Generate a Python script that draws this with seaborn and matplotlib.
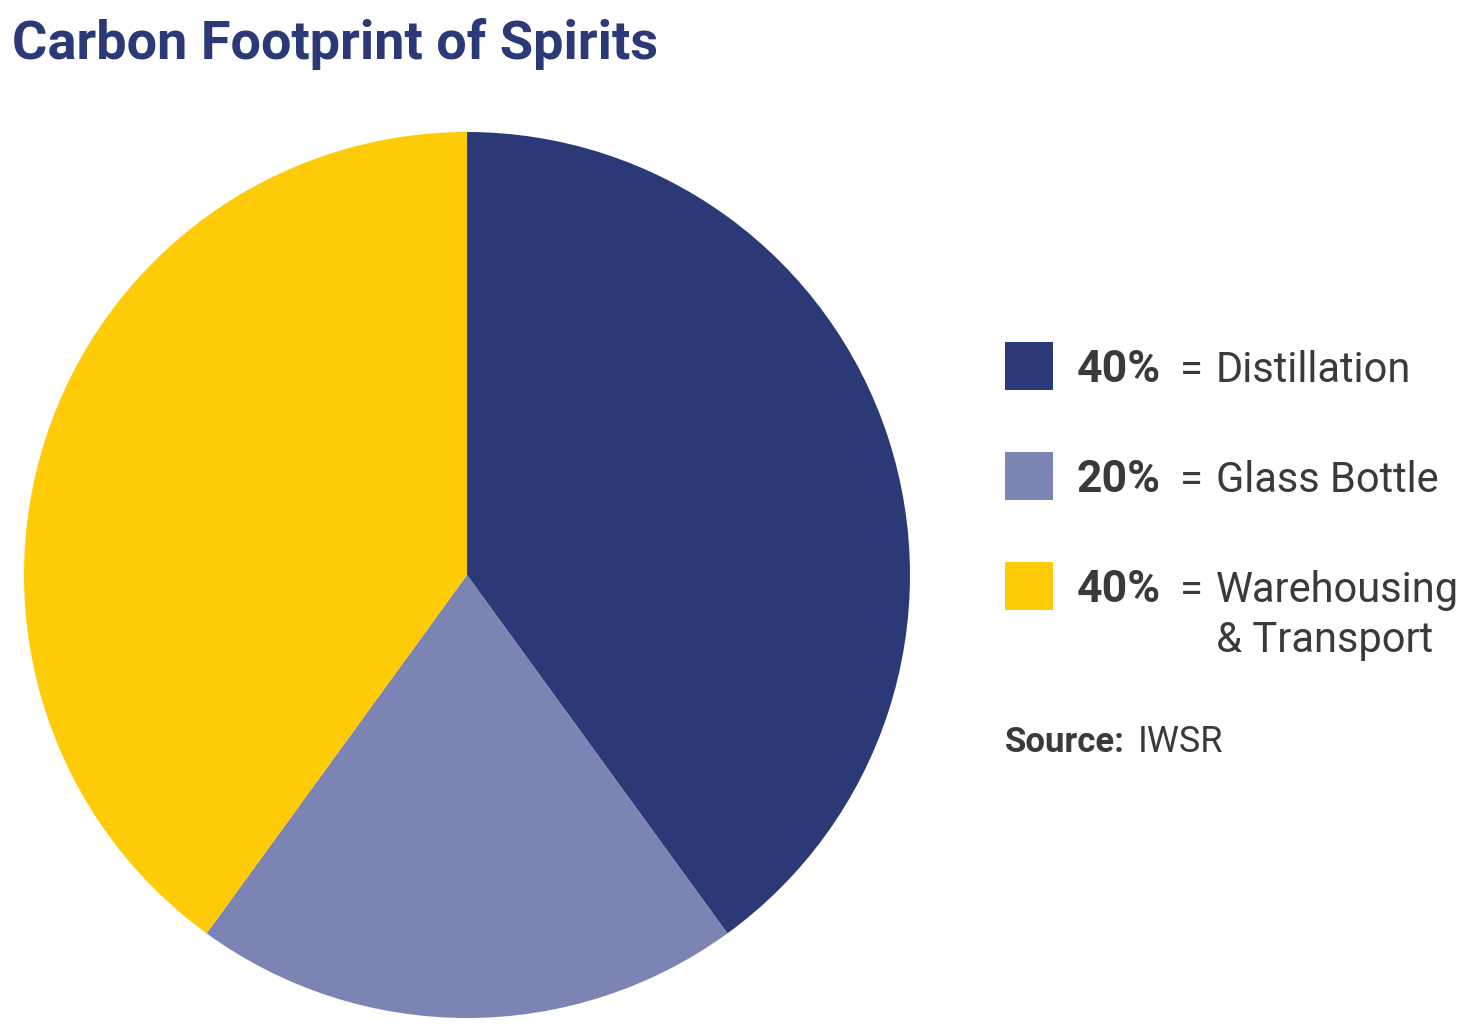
import matplotlib
matplotlib.use('Agg')
import matplotlib.pyplot as plt
import seaborn as sns

# data
categories = ['Distillation', 'Glass Bottle', 'Warehousing']
extra_lines = ['', '', '& Transport']
shares = [40, 20, 40]
pct_labels = ['40%', '20%', '40%']
colors = ['#2B3A77', '#7C84B3', '#FDCB08']

sns.set_theme(style='white')
plt.rcParams['font.family'] = ['Roboto', 'DejaVu Sans']

W, H = 1479, 1026
fig = plt.figure(figsize=(W / 100, H / 100), dpi=100)
fig.patch.set_facecolor('white')

# pie axes placed by pixel box
cx, cy, r = 467, 575, 443
ax = fig.add_axes([(cx - r) / W, (H - cy - r) / H, 2 * r / W, 2 * r / H])
ax.pie(shares, colors=colors, startangle=90, counterclock=False,
       wedgeprops=dict(linewidth=0))
ax.set_xlim(-1, 1)
ax.set_ylim(-1, 1)
ax.set_aspect('equal')
ax.axis('off')

# title
fig.text(12 / W, 1 - 59 / H, 'Carbon Footprint of Spirits', color='#2B3A77',
         fontsize=39, fontweight='bold', ha='left', va='baseline')

# legend
txt_col = '#3A3A3A'
row_y = [366, 476, 586]
for y, lab, extra, pct, col in zip(row_y, categories, extra_lines, pct_labels, colors):
    fig.patches.append(plt.Rectangle((1005 / W, 1 - (y + 24) / H), 48 / W, 48 / H,
                                     transform=fig.transFigure, color=col, lw=0))
    base = y + 16
    fig.text(1077 / W, 1 - base / H, pct, color=txt_col, fontsize=32,
             fontweight='bold', ha='left', va='baseline')
    fig.text(1180 / W, 1 - base / H, '=', color=txt_col, fontsize=30,
             ha='left', va='baseline')
    fig.text(1216 / W, 1 - base / H, lab, color=txt_col, fontsize=30,
             ha='left', va='baseline')
    if extra:
        fig.text(1216 / W, 1 - (base + 50) / H, extra, color=txt_col, fontsize=30,
                 ha='left', va='baseline')

fig.text(1005 / W, 1 - 752 / H, 'Source:', color=txt_col, fontsize=25,
         fontweight='bold', ha='left', va='baseline')
fig.text(1138 / W, 1 - 752 / H, 'IWSR', color=txt_col, fontsize=26,
         ha='left', va='baseline')

fig.savefig('out.png', dpi=100, facecolor='white')
